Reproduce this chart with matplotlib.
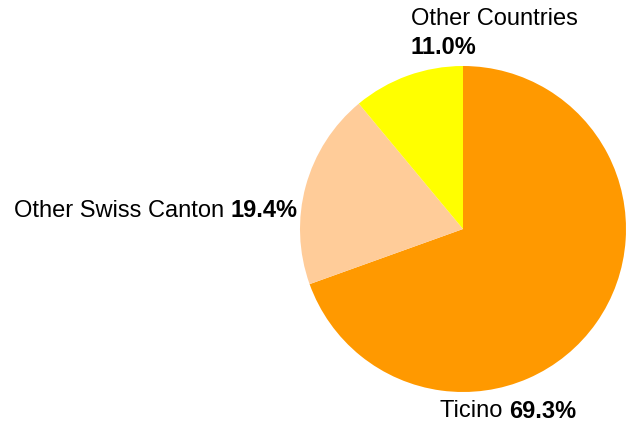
import matplotlib.pyplot as plt

labels = ["Ticino", "Other Swiss Canton", "Other Countries"]
shares = [69.3, 19.4, 11.0]
colors = ["#FF9900", "#FFCC99", "#FFFF00"]

W, H = 626, 430
cx, cy, r = 463, 229, 163

plt.rcParams['font.family'] = ['Liberation Sans', 'DejaVu Sans']
fig = plt.figure(figsize=(W / 100, H / 100), dpi=100)
ax = fig.add_axes([0, 0, 1, 1])
ax.pie(shares, colors=colors, startangle=90, counterclock=False, radius=1,
       wedgeprops={'linewidth': 0})
ax.set_xlim(-cx / r, (W - cx) / r)
ax.set_ylim(-(H - cy) / r, cy / r)
ax.set_aspect('auto')
ax.axis('off')

fs = 17


def px(x, y):
    return ((x - cx) / r, (cy - y) / r)


# Other Countries (top)
ax.text(*px(411, 19), labels[2], fontsize=fs, ha='left', va='center')
ax.text(*px(411, 47), f"{shares[2]:.1f}%", fontsize=fs, fontweight='bold',
        ha='left', va='center')

# Other Swiss Canton (left)
b = ax.text(*px(298, 211), f"{shares[1]:.1f}%", fontsize=fs, fontweight='bold',
            ha='right', va='center')
ax.annotate(labels[1] + " ", xy=(0, 0.5), xycoords=b, fontsize=fs,
            ha='right', va='center')

# Ticino (bottom)
t = ax.text(*px(440, 411), labels[0] + " ", fontsize=fs, ha='left', va='center')
ax.annotate(f"{shares[0]:.1f}%", xy=(1, 0.5), xycoords=t, fontsize=fs,
            fontweight='bold', ha='left', va='center')

fig.savefig("out.png", dpi=100)
